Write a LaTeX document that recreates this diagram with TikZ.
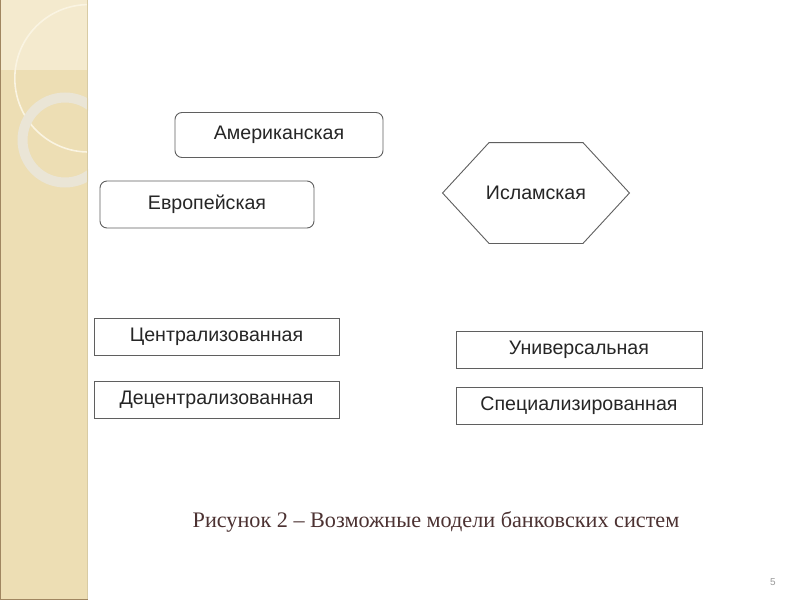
\documentclass[tikz,border=0pt]{standalone}
\usepackage{fontspec}
\setmainfont{Liberation Serif}
\setsansfont{Liberation Sans}
\usepackage{tikz}
\usetikzlibrary{positioning}
\usepackage{xcolor}
\definecolor{slbeige}{RGB}{237,222,180}
\definecolor{sllight}{RGB}{244,234,206}
\definecolor{slring}{RGB}{234,229,214}
\definecolor{slarc}{RGB}{250,244,226}
\definecolor{sledge}{RGB}{216,203,164}
\definecolor{slbrown}{RGB}{160,134,96}
\definecolor{boxgray}{RGB}{95,95,95}
\definecolor{captionred}{RGB}{76,50,50}
\tikzstyle{model} = [draw=boxgray, line width=0.9pt, font=\sffamily\fontsize{19.6}{22}\selectfont, text=black!85, inner sep=0pt]
\tikzstyle{roundmodel} = [model, rounded corners=7pt]

\begin{document}
\begin{tikzpicture}[x=1pt, y=-1pt]
    \useasboundingbox (0,0) rectangle (800,600);
    \fill[white] (0,0) rectangle (800,600);

    % Side strip
    \fill[slbeige] (0,0) rectangle (88,600);
    \fill[sllight] (0,0) rectangle (88,70);
    \begin{scope}
        \clip (0,0) rectangle (88,600);
        \draw[slarc, line width=1.6pt] (88.5,78.3) circle (73.7);
        \draw[slring, line width=10pt] (65,140) circle (42.5);
    \end{scope}
    \draw[sledge, line width=1.5pt] (87.5,0) -- (87.5,600);
    \draw[slbrown, line width=1pt] (0.5,0) -- (0.5,599.5) -- (88,599.5);

    % Ownership models
    \node[roundmodel, minimum width=208pt, minimum height=45pt] (american) at (279,135) {Американская};
    \node[roundmodel, minimum width=214pt, minimum height=47pt] (european) at (207,204.5) {Европейская};
    \node[model, draw=none, minimum width=186pt, minimum height=100pt] (islamic) at (536,193) {Исламская};
    \draw[boxgray, line width=0.9pt] (islamic.west) -- ([xshift=46.5pt]islamic.north west)
        -- ([xshift=-46.5pt]islamic.north east) -- (islamic.east)
        -- ([xshift=-46.5pt]islamic.south east) -- ([xshift=46.5pt]islamic.south west) -- cycle;

    % Structure models
    \node[model, minimum width=245pt, minimum height=37pt] (central) at (216.5,336.5) {Централизованная};
    \node[model, minimum width=245pt, minimum height=37pt] (decentral) at (216.5,399.5) {Децентрализованная};
    \node[model, minimum width=246pt, minimum height=37pt] (universal) at (579,350) {Универсальная};
    \node[model, minimum width=246pt, minimum height=37pt] (special) at (579,406) {Специализированная};

    % Caption
    \node[font=\fontsize{22.2}{26}\selectfont, text=captionred] (caption) at (436,522) {Рисунок 2 – Возможные модели банковских систем};
    \node[font=\sffamily\fontsize{10}{12}\selectfont, text=black!40] (pagenum) at (773,582) {5};
\end{tikzpicture}
\end{document}
